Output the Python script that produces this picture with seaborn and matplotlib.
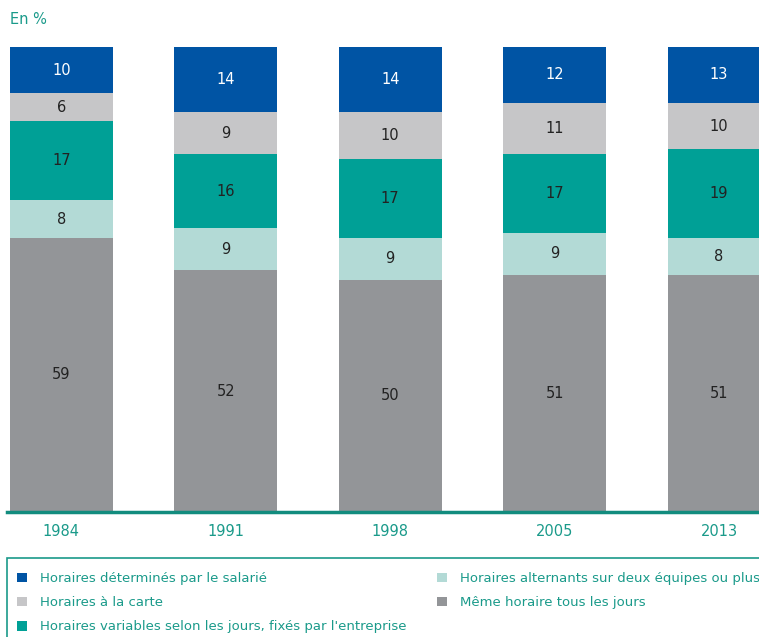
import numpy as np
import pandas as pd
import matplotlib
matplotlib.use('Agg')
import matplotlib.pyplot as plt
from matplotlib.patches import Rectangle, Patch
import seaborn as sns

sns.set_theme(style='white')
plt.rcParams['font.family'] = ['DejaVu Sans']

# Data
years = ['1984', '1991', '1998', '2005', '2013']
meme_horaire = [59, 52, 50, 51, 51]
alternants = [8, 9, 9, 9, 8]
variables = [17, 16, 17, 17, 19]
a_la_carte = [6, 9, 10, 11, 10]
determines = [10, 14, 14, 12, 13]

# bottom -> top
series = [
    ('Même horaire tous les jours', meme_horaire, '#939598', '#222222'),
    ('Horaires alternants sur deux équipes ou plus', alternants, '#b3dad6', '#222222'),
    ('Horaires variables selon les jours, fixés par l\'entreprise', variables, '#00a096', '#222222'),
    ('Horaires à la carte', a_la_carte, '#c6c6c8', '#222222'),
    ('Horaires déterminés par le salarié', determines, '#0054a4', 'white'),
]

teal = '#1a9a8a'

W, H = 759, 637
fig = plt.figure(figsize=(W / 100, H / 100), dpi=100)
ax = fig.add_axes([7 / W, (H - 512) / H, (W - 7) / W, (512 - 47) / H])

cum = np.cumsum([s[1] for s in series], axis=0)
# draw tallest cumulative first so lower layers sit on top
for i in range(len(series) - 1, -1, -1):
    df = pd.DataFrame({'year': years, 'value': cum[i]})
    sns.barplot(data=df, x='year', y='value', color=series[i][2],
                width=0.626, saturation=1, ax=ax, errorbar=None, linewidth=0)

for i, (name, vals, col, tcol) in enumerate(series):
    base = cum[i - 1] if i > 0 else np.zeros(len(years))
    for j, v in enumerate(vals):
        mid = min(base[j] + v / 2, base[j] + (100 - base[j]) / 2)
        ax.text(j, mid, str(v), ha='center', va='center', fontsize=10.5, color=tcol)

ax.set_xlim(-0.331, 4.243)
ax.set_ylim(0, 100)
ax.set_xlabel('')
ax.set_ylabel('')
ax.set_yticks([])
for s in ['top', 'right', 'left']:
    ax.spines[s].set_visible(False)
ax.spines['bottom'].set_color('#128c7e')
ax.spines['bottom'].set_linewidth(2.5)
ax.tick_params(axis='x', length=0, pad=9, labelsize=10.5, labelcolor=teal)

fig.text(10 / W, 1 - 20 / H, 'En %', fontsize=10.5, color=teal, va='center')

# legend box
fig.patches.append(Rectangle((7 / W, -0.05), 1, (H - 558) / H + 0.05, transform=fig.transFigure,
                             facecolor='none', edgecolor=teal, linewidth=1.2))
order = [4, 3, 2, 1, 0]
handles = [Patch(facecolor=series[k][2], edgecolor='none') for k in order]
labels = [series[k][0] for k in order]
fig.legend(handles, labels, ncol=2, loc='upper left',
           bbox_to_anchor=(17 / W, 1 - 572 / H), frameon=False,
           fontsize=9.5, labelcolor=teal, handlelength=0.75, handleheight=0.75,
           handletextpad=1.0, columnspacing=2.3, labelspacing=0.85,
           borderaxespad=0, borderpad=0)

fig.savefig('out.png', dpi=100)
